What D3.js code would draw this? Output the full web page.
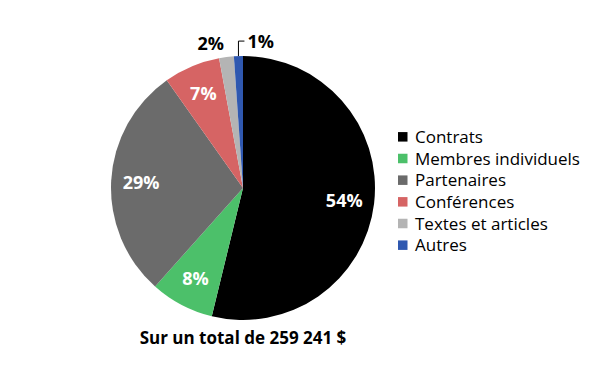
<!DOCTYPE html>
<html>
<head>
<meta charset="utf-8">
<script src="https://cdn.jsdelivr.net/npm/d3@7"></script>
<style>
  body { margin: 0; background: #fff; }
  text { font-family: "Open Sans", "Noto Sans", sans-serif; }
</style>
</head>
<body>
<div id="chart"></div>
<script>
// revenue shares (percent), clockwise from 12 o'clock
const categories = ['Contrats', 'Membres individuels', 'Partenaires', 'Conférences', 'Textes et articles', 'Autres']
const shares = [53.8, 7.8, 28.6, 6.9, 1.8, 1.1]
const colors = ['#000000', '#4cc06a', '#6b6b6b', '#d66464', '#b4b4b4', '#2f58b0']
const totalLabel = 'Sur un total de 259 241 $'

var width = 614, height = 377
var cx = 243, cy = 188, radius = 132

var svg = d3.select('#chart').append('svg')
    .attr('width', width)
    .attr('height', height)

var data = categories.map((c, i) => ({ name: c, value: shares[i], color: colors[i] }))

var pie = d3.pie()
    .sort(null)
    .value(d => d.value)

var arc = d3.arc().innerRadius(0).outerRadius(radius)
var labelArc = d3.arc().innerRadius(102).outerRadius(102)

var g = svg.append('g').attr('transform', `translate(${cx},${cy})`)
var arcs = pie(data)

g.selectAll('path')
    .data(arcs)
    .enter()
    .append('path')
    .attr('d', arc)
    .attr('fill', d => d.data.color)

// big slices: white label inside
g.selectAll('.inlabel')
    .data(arcs.filter(d => d.data.value > 5))
    .enter()
    .append('text')
    .attr('class', 'inlabel')
    .attr('transform', d => `translate(${labelArc.centroid(d)})`)
    .attr('text-anchor', 'middle')
    .attr('dy', '0.36em')
    .attr('fill', '#fff')
    .attr('font-size', 18)
    .attr('font-weight', 'bold')
    .text(d => Math.round(d.data.value) + '%')

// small slices: black label outside
var small = arcs.filter(d => d.data.value <= 5)
var textes = small[0], autres = small[1]

var outArc = d3.arc().innerRadius(radius + 14).outerRadius(radius + 14)
var pT = outArc.centroid(textes)
g.append('text')
    .attr('x', pT[0] - 14)
    .attr('y', pT[1])
    .attr('text-anchor', 'middle')
    .attr('dy', '0.36em')
    .attr('font-size', 18)
    .attr('font-weight', 'bold')
    .text(Math.round(textes.data.value) + '%')

// leader line for Autres
var pA = d3.arc().innerRadius(radius).outerRadius(radius).centroid(autres)
var elbowY = pA[1] - 15
g.append('polyline')
    .attr('points', [[pA[0], pA[1]], [pA[0], elbowY], [pA[0] + 6, elbowY]].join(' '))
    .attr('fill', 'none')
    .attr('stroke', '#000')
    .attr('stroke-width', 1)
g.append('text')
    .attr('x', pA[0] + 9)
    .attr('y', elbowY)
    .attr('dy', '0.36em')
    .attr('font-size', 18)
    .attr('font-weight', 'bold')
    .text(Math.round(autres.data.value) + '%')

// total underneath
svg.append('text')
    .attr('x', cx)
    .attr('y', 344)
    .attr('text-anchor', 'middle')
    .attr('font-size', 17)
    .attr('font-weight', 'bold')
    .text(totalLabel)

// legend
var legendY = d3.scaleBand()
    .domain(categories)
    .range([126, 256])

var legend = svg.append('g').attr('transform', 'translate(398,0)')
var items = legend.selectAll('g')
    .data(data)
    .enter()
    .append('g')
    .attr('transform', d => `translate(0,${legendY(d.name) + legendY.bandwidth() / 2})`)

items.append('rect')
    .attr('x', 0)
    .attr('y', -4.75)
    .attr('width', 9.5)
    .attr('height', 9.5)
    .attr('fill', d => d.color)

items.append('text')
    .attr('x', 17)
    .attr('dy', '0.36em')
    .attr('font-size', 17)
    .attr('fill', '#000')
    .text(d => d.name)
</script>
</body>
</html>
